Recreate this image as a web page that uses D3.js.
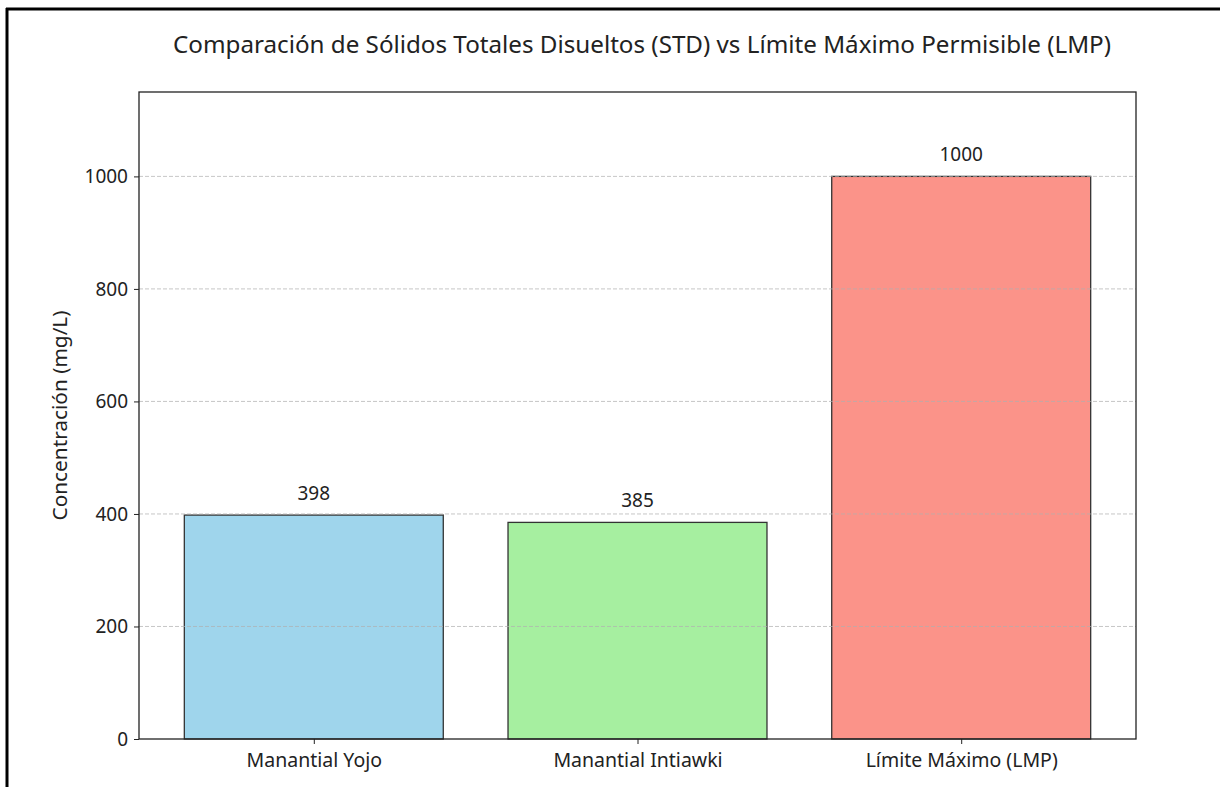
<!DOCTYPE html>
<html>
<head>
<meta charset="utf-8">
<script src="https://cdn.jsdelivr.net/npm/d3@7"></script>
<style>
  html, body { margin: 0; padding: 0; background: #fff; }
  svg { display: block; }
  text { font-family: "Noto Sans", "Open Sans", sans-serif; fill: #222; }
</style>
</head>
<body>
<svg id="chart" width="1220" height="787"></svg>
<script>
const categories = ["Manantial Yojo", "Manantial Intiawki", "Límite Máximo (LMP)"];
const values = [398, 385, 1000];
const colors = ["#9FD5EC", "#A6EFA0", "#FB9389"];
const yTicks = [0, 200, 400, 600, 800, 1000];
const title = "Comparación de Sólidos Totales Disueltos (STD) vs Límite Máximo Permisible (LMP)";
const yLabel = "Concentración (mg/L)";

const svg = d3.select("#chart");
const plot = { left: 139, top: 92, right: 1136, bottom: 739 };

// outer frame (left and top edges visible)
svg.append("line").attr("x1", 7).attr("x2", 7).attr("y1", 8).attr("y2", 787)
  .attr("stroke", "#000").attr("stroke-width", 3);
svg.append("line").attr("x1", 6).attr("x2", 1220).attr("y1", 9).attr("y2", 9)
  .attr("stroke", "#000").attr("stroke-width", 3);

const x = d3.scaleLinear().domain([-0.54, 2.54]).range([plot.left, plot.right]);
const y = d3.scaleLinear().domain([0, 1150]).range([plot.bottom, plot.top]);

// bars
svg.append("g").selectAll("rect").data(values).join("rect")
  .attr("x", (d, i) => x(i - 0.4))
  .attr("width", (d, i) => x(i + 0.4) - x(i - 0.4))
  .attr("y", d => y(d))
  .attr("height", d => y(0) - y(d))
  .attr("fill", (d, i) => colors[i])
  .attr("stroke", "#333")
  .attr("stroke-width", 1.3);

// grid
svg.append("g").selectAll("line").data(yTicks.slice(1)).join("line")
  .attr("x1", plot.left).attr("x2", plot.right)
  .attr("y1", d => y(d)).attr("y2", d => y(d))
  .attr("stroke", "#b0b0b0").attr("stroke-width", 1)
  .attr("stroke-dasharray", "4,2").attr("opacity", 0.7);

// value labels
svg.append("g").selectAll("text").data(values).join("text")
  .attr("x", (d, i) => x(i))
  .attr("y", d => y(d) - 15)
  .attr("text-anchor", "middle")
  .attr("font-size", 19)
  .text(d => d);

// axes
const yAxis = d3.axisLeft(y).tickValues(yTicks).tickFormat(d3.format("d")).tickSize(5).tickPadding(6);
const gy = svg.append("g").attr("transform", `translate(${plot.left},0)`).call(yAxis);
gy.select(".domain").remove();
gy.selectAll("text").attr("font-size", 19).style("font-family", '"Noto Sans", sans-serif').attr("fill", "#222");
gy.selectAll("line").attr("stroke", "#222");

const xAxis = d3.axisBottom(x).tickValues([0, 1, 2]).tickFormat(i => categories[i]).tickSize(5).tickPadding(9);
const gx = svg.append("g").attr("transform", `translate(0,${plot.bottom})`).call(xAxis);
gx.select(".domain").remove();
gx.selectAll("text").attr("font-size", 19.5).style("font-family", '"Noto Sans", sans-serif').attr("fill", "#222");
gx.selectAll("line").attr("stroke", "#222");

// frame
svg.append("rect").attr("x", plot.left).attr("y", plot.top)
  .attr("width", plot.right - plot.left).attr("height", plot.bottom - plot.top)
  .attr("fill", "none").attr("stroke", "#222").attr("stroke-width", 1.3);

// title
svg.append("text").attr("x", 642).attr("y", 53)
  .attr("text-anchor", "middle").attr("font-size", 24.2).text(title);

// y label
svg.append("text")
  .attr("transform", `translate(67,${(plot.top + plot.bottom) / 2}) rotate(-90)`)
  .attr("text-anchor", "middle").attr("font-size", 20.8).text(yLabel);
</script>
</body>
</html>
